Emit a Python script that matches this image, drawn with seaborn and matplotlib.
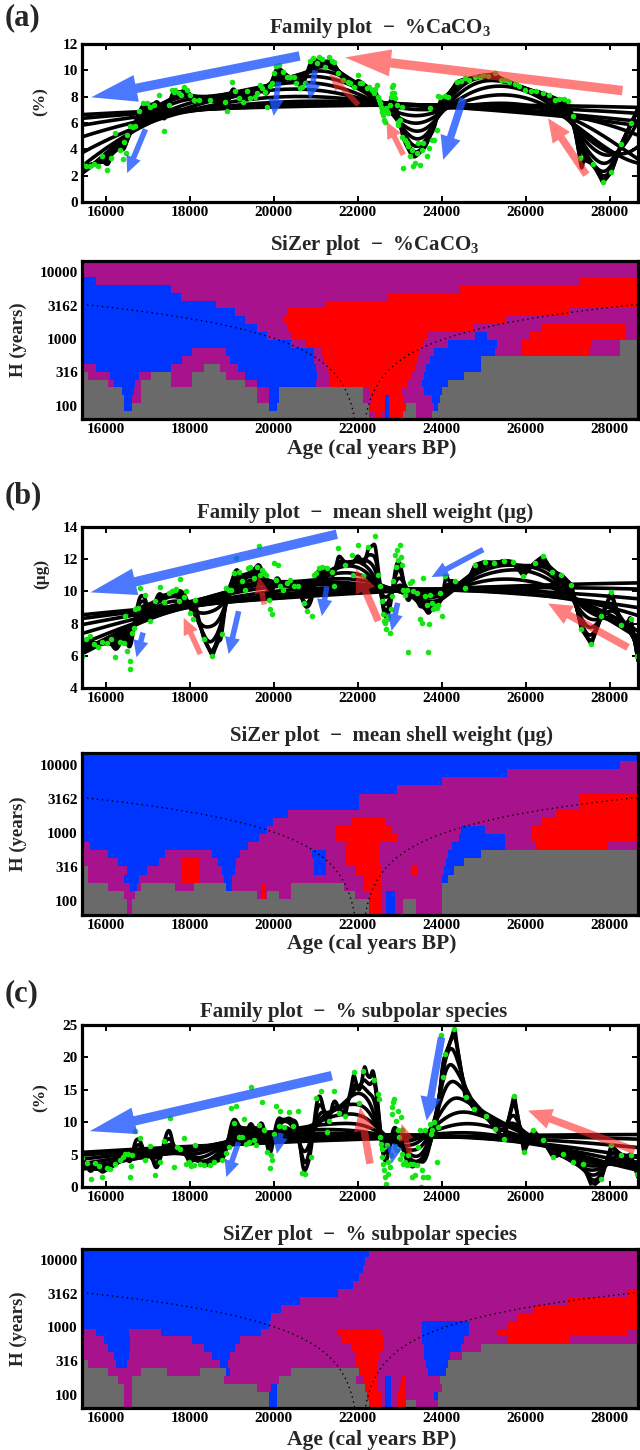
import numpy as np
import matplotlib
matplotlib.use("Agg")
import matplotlib.pyplot as plt
import seaborn as sns
from matplotlib.colors import ListedColormap, BoundaryNorm
from matplotlib.ticker import NullLocator

sns.set_style("ticks")
plt.rcParams["font.family"] = ["Liberation Serif", "DejaVu Serif"]
plt.rcParams["font.weight"] = "bold"
plt.rcParams["axes.labelweight"] = "bold"
plt.rcParams["mathtext.fontset"] = "custom"
plt.rcParams["mathtext.rm"] = "Liberation Serif:bold"
plt.rcParams["mathtext.bf"] = "Liberation Serif:bold"
plt.rcParams["mathtext.it"] = "Liberation Serif:bold"

# ---------------------------------------------------------------- data
age_caco3 = [15430, 15524, 15627, 15722, 15817, 15920, 16039, 16134, 16237, 16340,
             16419, 16451, 16498, 16514, 16593, 16649, 16712, 16807, 16894, 16989,
             17068, 17163, 17266, 17385, 17504, 17583, 17623, 17662, 17742, 17797,
             17876, 17940, 18019, 18098, 18217, 18494, 18850, 18890, 19009, 19088,
             19167, 19270, 19365, 19444, 19563, 19603, 19682, 19722, 19801, 19840,
             19920, 19959, 20015, 20062, 20118, 20221, 20316, 20395, 20474, 20537,
             20632, 20672, 20751, 20854, 20933, 21028, 21068, 21147, 21226, 21329,
             21385, 21440, 21543, 21660, 21763, 21818, 21921, 22000, 22056, 22111,
             22214, 22269, 22333, 22396, 22412, 22452, 22475, 22507, 22531, 22555,
             22570, 22586, 22610, 22634, 22650, 22665, 22689, 22729, 22768, 22792,
             22808, 22824, 22848, 22871, 22887, 22927, 22951, 22966, 23006, 23046,
             23061, 23085, 23125, 23164, 23204, 23244, 23283, 23323, 23362, 23402,
             23442, 23481, 23521, 23560, 23640, 23695, 23719, 23758, 23822, 23877,
             23917, 23956, 24075, 24150, 24352, 24450, 24550, 24650, 24788, 24900,
             24986, 25100, 25263, 25400, 25501, 25600, 25738, 25850, 25976, 26134,
             26250, 26412, 26550, 26705, 26800, 26911, 27000, 27124, 27283, 27600,
             27837, 28035, 28273, 28510]
caco3 = [2.90, 2.70, 2.75, 2.90, 2.75, 3.51, 2.40, 3.33, 5.23, 3.96,
         3.26, 4.52, 3.71, 5.10, 5.78, 5.68, 5.78, 6.94, 7.55, 7.50,
         7.25, 7.35, 8.13, 5.43, 7.37, 8.51, 8.38, 8.51, 8.26, 8.13,
         8.76, 8.51, 8.13, 7.75, 7.75, 7.75, 7.63, 6.94, 9.14, 8.46,
         7.88, 7.63, 8.46, 7.88, 8.00, 8.26, 8.89, 8.64, 8.38, 7.25,
         8.81, 9.02, 9.82, 10.33, 10.40, 9.90, 9.47, 9.47, 9.47, 9.07,
         8.64, 8.76, 9.02, 10.73, 10.91, 10.53, 10.98, 10.83, 10.28, 10.98,
         10.73, 10.66, 9.77, 9.27, 9.14, 9.02, 8.76, 9.65, 9.02, 9.07,
         8.64, 8.76, 8.51, 8.26, 8.56, 8.89, 8.00, 7.75, 7.50, 7.25,
         7.00, 6.87, 6.62, 6.24, 6.11, 7.12, 6.94, 6.74, 7.37, 8.00,
         8.26, 8.76, 8.89, 8.26, 7.88, 7.37, 6.11, 5.86, 6.24, 7.25,
         4.92, 2.58, 4.72, 4.47, 4.22, 3.46, 3.96, 2.70, 2.95, 3.71,
         4.47, 2.83, 3.96, 4.47, 3.46, 4.09, 7.12, 4.72, 4.72, 5.48,
         8.06, 7.95, 8.06, 8.00, 9.14, 9.20, 9.39, 9.30, 9.52, 9.50,
         9.65, 9.60, 9.77, 9.30, 9.27, 9.10, 8.96, 8.80, 8.51, 8.46,
         8.40, 8.26, 8.10, 7.75, 7.80, 7.80, 7.70, 6.54, 3.33, 2.90,
         1.49, 2.25, 4.42, 5.98]

age_shell = [15430, 15524, 15627, 15722, 15817, 15920, 16039, 16134, 16237, 16340,
             16435, 16474, 16514, 16577, 16593, 16633, 16672, 16712, 16767, 16831,
             16950, 17053, 17187, 17290, 17385, 17504, 17583, 17662, 17686, 17742,
             17781, 17860, 17924, 18003, 18082, 18138, 18336, 18534, 18771, 18874,
             18930, 18985, 19048, 19112, 19167, 19246, 19326, 19381, 19444, 19524,
             19603, 19642, 19682, 19722, 19761, 19824, 19880, 19920, 19959, 19999,
             20062, 20094, 20157, 20221, 20316, 20395, 20474, 20569, 20712, 20791,
             20910, 20949, 21013, 21068, 21147, 21266, 21385, 21440, 21543, 21699,
             21858, 21900, 22016, 22135, 22238, 22412, 22491, 22531, 22586, 22610,
             22634, 22650, 22665, 22689, 22729, 22768, 22792, 22808, 22848, 22887,
             22903, 22927, 22966, 23006, 23030, 23046, 23085, 23125, 23164, 23204,
             23244, 23283, 23323, 23402, 23481, 23521, 23560, 23600, 23640, 23663,
             23695, 23719, 23758, 23798, 23838, 23877, 23917, 23956, 23996, 24075,
             24313, 24550, 24788, 25026, 25247, 25485, 25699, 25936, 26214, 26412,
             26625, 26847, 27085, 27322, 27560, 27798, 28035, 28273, 28510, 28650]
shell_weight = [6.01, 7.07, 7.20, 6.73, 6.52, 6.87, 6.79, 7.07, 5.95, 6.87,
                6.79, 8.47, 6.32, 5.70, 5.19, 7.40, 7.75, 8.88, 8.98, 10.21,
                9.80, 8.16, 9.39, 10.27, 9.33, 9.90, 10.00, 10.07, 10.15, 9.39,
                10.76, 9.66, 10.00, 8.63, 8.26, 9.49, 7.07, 6.01, 7.34, 10.21,
                10.11, 10.07, 11.13, 12.05, 11.23, 10.62, 10.11, 11.44, 11.54, 10.82,
                11.54, 12.81, 11.03, 11.34, 11.13, 11.03, 9.49, 8.88, 8.57, 11.75,
                10.72, 11.64, 10.31, 10.11, 10.52, 10.72, 10.31, 10.31, 9.29, 8.77,
                8.47, 11.03, 11.13, 11.44, 11.54, 11.44, 11.23, 10.31, 12.67, 11.64,
                12.26, 11.03, 12.87, 10.93, 12.77, 13.43, 11.03, 10.31, 9.39, 8.57,
                8.16, 8.06, 7.65, 8.26, 8.47, 7.44, 8.88, 9.70, 10.62, 12.26,
                11.54, 12.57, 11.95, 12.87, 12.16, 11.64, 10.11, 9.80, 10.11, 6.21,
                10.52, 10.62, 10.00, 9.90, 8.26, 8.06, 10.82, 9.70, 9.18, 6.21,
                7.95, 9.80, 9.29, 8.88, 9.08, 8.98, 9.18, 9.90, 8.47, 10.93,
                10.62, 10.21, 11.64, 11.85, 11.75, 11.91, 11.85, 10.97, 11.79, 12.20,
                11.23, 11.03, 10.41, 7.69, 6.73, 8.47, 9.94, 7.89, 8.26, 6.01]

age_subpolar = [15430, 15548, 15643, 15738, 15841, 15920, 16023, 16118, 16237, 16340,
                16419, 16474, 16530, 16577, 16609, 16633, 16712, 16831, 16950, 17068,
                17187, 17290, 17401, 17528, 17639, 17702, 17765, 17860, 17924, 17979,
                18035, 18098, 18138, 18256, 18351, 18494, 18573, 18771, 18874, 18930,
                18985, 19048, 19112, 19167, 19246, 19286, 19349, 19405, 19460, 19524,
                19587, 19642, 19722, 19777, 19840, 19904, 19935, 19959, 19999, 20062,
                20118, 20157, 20252, 20355, 20458, 20569, 20672, 20751, 20886, 21013,
                21124, 21266, 21329, 21440, 21567, 21699, 21921, 22032, 22135, 22396,
                22475, 22507, 22531, 22555, 22570, 22586, 22610, 22634, 22650, 22665,
                22689, 22713, 22729, 22768, 22792, 22808, 22824, 22848, 22871, 22887,
                22903, 22927, 22951, 22966, 22982, 23006, 23030, 23046, 23061, 23085,
                23125, 23164, 23204, 23244, 23283, 23323, 23362, 23402, 23442, 23481,
                23505, 23521, 23560, 23600, 23640, 23679, 23719, 23743, 23774, 23822,
                23877, 23917, 23980, 24036, 24075, 24300, 24566, 24772, 25065, 25263,
                25485, 25723, 25960, 26174, 26412, 26650, 26887, 27124, 27362, 27576,
                27798, 28035, 28273, 28510, 28650]
subpolar = [4.46, 3.69, 1.28, 3.69, 3.18, 1.54, 2.97, 2.82, 3.49, 4.10,
            4.62, 5.03, 5.13, 1.54, 3.18, 4.87, 8.62, 7.59, 4.10, 6.26,
            1.79, 3.85, 7.08, 10.67, 3.08, 6.15, 5.90, 7.59, 3.59, 3.85,
            3.18, 3.33, 6.41, 3.49, 3.33, 3.33, 3.85, 4.21, 5.23, 6.15,
            12.21, 9.85, 12.56, 7.79, 7.69, 10.51, 6.67, 6.92, 15.49, 7.18,
            6.41, 9.64, 13.08, 8.72, 5.38, 2.97, 4.87, 4.21, 8.21, 12.56,
            9.49, 11.79, 9.23, 11.54, 9.49, 11.79, 2.15, 1.95, 4.62, 13.74,
            14.87, 8.46, 10.15, 14.77, 11.38, 11.03, 17.69, 12.92, 17.95, 16.51,
            14.36, 13.59, 7.69, 6.67, 5.90, 4.62, 3.59, 2.56, 1.54, 0.51,
            6.41, 3.85, 2.05, 3.08, 4.87, 11.28, 12.31, 13.08, 13.59, 6.15,
            10.26, 5.64, 8.72, 11.79, 7.69, 4.36, 10.77, 8.72, 5.13, 3.59,
            3.85, 3.33, 4.87, 3.59, 1.54, 3.59, 1.79, 3.33, 6.15, 8.72,
            0.00, 2.56, 1.54, 8.72, 1.54, 1.54, 9.74, 8.21, 8.72, 10.00,
            3.85, 9.23, 23.49, 16.92, 20.51, 24.40, 13.85, 12.05, 11.03, 8.97,
            7.44, 14.10, 5.38, 8.72, 7.18, 4.62, 5.13, 3.85, 3.59, 0.00,
            1.28, 6.41, 4.87, 4.87, 1.95]

# smoothing bandwidths (years) of the family of curves
bandwidths = [75, 110, 160, 235, 345, 505, 740, 1085, 1590, 2330, 3420, 5010, 7350, 10780]

# SiZer maps: one string per bandwidth row (largest H first);
# each token = colour code + age where that colour run ends.
# G: too few data, P: no significant slope, B: significant increase, R: significant decrease
sizer_caco3 = [
    "P29000",
    "P29000",
    "B15770 P27258 R29000",
    "B17563 P24398 R29000",
    "B17800 P22700 R29000",
    "B18630 P21250 R29000",
    "B19066 P20326 R27064 P29000",
    "B19308 P20230 R25513 P29000",
    "B19600 P20326 R24737 P26385 R28373 P29000",
    "B19842 P20423 R23671 P24785 B25076 P26094 R28373 P29000",
    "B20423 P20763 R23574 P24155 B25319 P25900 R27549 P28227 G29000",
    "B18048 P18872 B20956 P21150 R23477 P23816 B25270 P25900 R27500 P28227 G29000",
    "B17806 P18969 B20956 P21199 R23429 P23719 B24931 G29000",
    "P15770 B17563 P18339 G18727 P19163 B21005 P21296 R23380 P23622 B24931 G29000",
    "G15576 P16109 B16788 P17079 G17563 P18048 G18872 P19308 B21034 P21325 R23283 P23574 B24543 G29000",
    "G16061 P16206 B16691 P16836 G17563 P18048 G19308 P19599 B21005 P21344 R23186 P23525 B24155 G29000",
    "G16400 B16672 P16836 G19599 P19890 B20132 G22120 P22265 R23041 P23574 B24010 G29000",
    "G16449 B16643 P16836 G19599 P19890 B20132 G22120 P22314 R22653 B22750 R23089 P23768 B23962 G29000",
    "G16449 B16643 G19890 B20084 G22265 R22653 B22750 R23138 G23380 P23816 B23913 G29000",
    "G22265 P22410 R22556 P22653 B22750 R23089 G23380 P23768 G29000",
]
sizer_shell = [
    "B29000",
    "B28227 P29000",
    "B25562 P29000",
    "B24010 P29000",
    "B22944 P29000",
    "B22023 P27258 R29000",
    "B22023 P27258 R29000",
    "B20326 P26724 R29000",
    "B19987 P21829 R22653 P26385 R29000",
    "B19842 P21490 R22798 P24446 B25028 P26143 R29000",
    "B19648 P21490 R22944 P24398 B25513 P26143 R29000",
    "P15625 B19405 P21732 R22507 P24252 B25513 P26240 R27936 P29000",
    "P16061 B17418 P18533 B19211 P20908 B21247 P21732 R22507 P24155 B24931 G29000",
    "P16303 B17273 P17806 R18242 P18678 B19115 P20956 B21247 P21732 R22507 P24107 B24543 G29000",
    "G15576 P16497 B16982 P17806 R18242 P18775 B19066 P20956 B21247 P21926 R22556 P23283 R23400 P24058 B24301 G29000",
    "G15576 P16449 B16788 P17806 R18242 P18823 B19018 P22120 R22556 P24010 B24155 G29000",
    "G16061 P16594 B16740 P16836 G17660 P18097 G18872 B19018 P19696 R19793 P20423 G21684 P22120 R22556 P24010 G29000",
    "G16449 P16691 G19599 P19696 R19793 P19842 G20132 P20423 G21926 P22265 R22556 P22682 B22876 P24010 G29000",
    "G16497 P16643 G22265 R22556 P22682 B22876 P23089 G23380 P24010 G29000",
    "G16497 P16643 G22265 R22556 P22682 B22876 P23089 G23380 P24010 G29000",
]
sizer_subpolar = [
    "B22265 P29000",
    "B22168 P29000",
    "B22120 P29000",
    "B22023 P29000",
    "B21877 P29000",
    "B21538 P28421 R29000",
    "B20617 P26967 R29000",
    "B20181 P26191 R29000",
    "B19939 P25803 R29000",
    "B19890 P23525 B24640 P25562 R29000",
    "P15770 B16546 P17321 B19695 P21538 R22556 P23525 B24640 P25319 R28421 P29000",
    "P15965 B16594 P18048 B19211 P21635 R22605 P23525 B24543 P25562 R27064 P29000",
    "P16061 B16594 P18339 B19066 P21829 R22605 P23574 B24446 P24931 G29000",
    "P16206 B16546 P18533 B18969 P21926 R22507 P23574 B24203 P24495 G29000",
    "G15576 P16255 B16497 P18727 B18920 P21974 R22459 P23622 B24155 G29000",
    "G16061 P16836 G17466 P18242 G18872 B18969 P20423 G22023 R22459 P23671 B24107 G29000",
    "G16303 P16643 G18824 P20132 G21974 P22120 R22459 P22653 B22799 P23041 R23138 P23962 G29000",
    "G16449 P16643 G19599 P19938 B20084 G22168 R22459 P22653 B22799 P22992 R23138 P24010 G29000",
    "G16449 P16643 G19890 B20084 G22217 R22556 P22653 B22799 P22944 R23138 P23816 B23913 G29000",
    "G16449 P16643 G19890 B20084 G22265 R22556 P22653 B22799 P22944 R23138 G23380 P23913 G29000",
]

age_ticks = [16000, 18000, 20000, 22000, 24000, 26000, 28000]
h_ticks = [100, 316, 1000, 3162, 10000]
h_tick_labels = ["100", "316", "1000", "3162", "10000"]

# trend arrows: (tail age, tail value, tip age, tip value, colour, size)
arrows_caco3 = [
    (20617, 11.09, 15659, 7.95, "b", "L"),
    (16950, 5.53, 16514, 2.20, "b", "S"),
    (20118, 9.14, 20000, 6.54, "b", "S"),
    (20989, 10.00, 20854, 7.75, "b", "S"),
    (22018, 7.37, 21329, 9.72, "r", "S"),
    (28300, 8.46, 21699, 10.98, "r", "L"),
    (23085, 3.59, 22689, 6.11, "r", "S"),
    (24511, 7.88, 24036, 3.21, "b", "M"),
    (27441, 2.07, 26530, 6.36, "r", "M"),
]
arrows_shell = [
    (21504, 13.55, 15643, 9.94, "b", "L"),
    (16894, 7.44, 16736, 5.91, "b", "S"),
    (18256, 6.11, 17860, 8.36, "r", "S"),
    (19167, 8.77, 18930, 6.11, "b", "S"),
    (19777, 9.18, 19642, 10.93, "r", "S"),
    (21266, 10.31, 21147, 8.47, "b", "S"),
    (22491, 8.16, 21960, 11.40, "r", "M"),
    (22951, 9.29, 22808, 7.55, "b", "S"),
    (24986, 12.60, 23758, 10.89, "b", "S"),
    (28431, 6.52, 26530, 9.25, "r", "M"),
]
arrows_subpolar = [
    (21385, 17.18, 15627, 8.62, "b", "L"),
    (19167, 6.92, 18874, 1.54, "b", "S"),
    (20173, 8.31, 20078, 5.13, "b", "S"),
    (22293, 3.59, 22056, 12.30, "r", "M"),
    (22887, 6.67, 22808, 3.59, "b", "S"),
    (23244, 5.13, 23046, 9.74, "r", "S"),
    (23996, 23.10, 23640, 10.26, "b", "M"),
    (28590, 5.64, 26055, 11.79, "r", "M"),
]

# ---------------------------------------------------------------- helpers
AGE_LIM = (15440, 28670)
LOG_H_LIM = (1.80, 4.17)
SIZER_COLORS = ["#6a6a6a", "#a8128c", "#0034ff", "#ff0000"]
GREEN = "#14e614"
ARROW_COLORS = {"b": ("#1f55ff", 0.80), "r": ("#ff2a2a", 0.60)}
ARROW_SIZES = {"L": (6.8, 19.5, 33.0), "M": (5.4, 15.0, 17.0), "S": (4.0, 11.0, 12.0)}

W, H = 640, 1450


def fx(px):
    return px / W


def fy(py):
    return 1 - py / H


def add_axes(top, bottom, left=82, right=638):
    return fig.add_axes([fx(left), fy(bottom), (right - left) / W, (bottom - top) / H])


def local_linear(x, y, grid, h):
    x = np.asarray(x, float)
    y = np.asarray(y, float)
    d = x[None, :] - grid[:, None]
    z = -0.5 * (d / h) ** 2
    z -= z.max(axis=1, keepdims=True)
    w = np.exp(z)
    s0 = w.sum(1)
    s1 = (w * d).sum(1)
    s2 = (w * d * d).sum(1)
    t0 = (w * y).sum(1)
    t1 = (w * d * y).sum(1)
    den = s0 * s2 - s1 ** 2
    ok = den > 1e-6 * s0 * s2
    ll = (s2 * t0 - s1 * t1) / np.where(ok, den, 1.0)
    return np.where(ok, ll, t0 / s0)


def sizer_grid(rows, x_edges):
    codes = {"G": 0, "P": 1, "B": 2, "R": 3}
    centers = 0.5 * (x_edges[:-1] + x_edges[1:])
    grid = np.zeros((len(rows), len(centers)), dtype=int)
    for i, row in enumerate(rows):
        toks = row.split()
        cols = np.array([codes[t[0]] for t in toks])
        ends = np.array([float(t[1:]) for t in toks])
        idx = np.clip(np.searchsorted(ends, centers, side="right"), 0, len(ends) - 1)
        grid[i] = cols[idx]
    return grid[::-1]


def style_axes(ax):
    for s in ax.spines.values():
        s.set_linewidth(2.3)
        s.set_color("black")
        s.set_zorder(6)
    ax.tick_params(direction="in", length=4.5, width=1.4, top=True, right=True,
                   labelsize=11, pad=3, colors="black")
    for lab in ax.get_xticklabels() + ax.get_yticklabels():
        lab.set_fontweight("bold")


def draw_family(ax, ages, values, ylim, yticks, arrows):
    grid = np.linspace(AGE_LIM[0], AGE_LIM[1], 900)
    for h in bandwidths:
        ax.plot(grid, local_linear(ages, values, grid, h), color="black",
                lw=2.6, solid_capstyle="round", zorder=2)
    sns.scatterplot(x=ages, y=values, ax=ax, color=GREEN, s=16, linewidth=0,
                    zorder=3, legend=False)
    for x0, y0, x1, y1, c, sz in arrows:
        col, alpha = ARROW_COLORS[c]
        tw, hw, hl = ARROW_SIZES[sz]
        ax.annotate("", xy=(x1, y1), xytext=(x0, y0), zorder=5,
                    arrowprops=dict(arrowstyle=f"simple,head_length={hl},head_width={hw},tail_width={tw}",
                                    mutation_scale=1, color=col, alpha=alpha, lw=0,
                                    shrinkA=0, shrinkB=0))
    ax.set_xlim(AGE_LIM)
    ax.set_ylim(ylim)
    ax.set_xticks(age_ticks)
    ax.set_yticks(yticks)
    ax.set_xlabel("")
    ax.set_ylabel("")
    style_axes(ax)


def draw_sizer(ax, rows):
    x_edges = np.arange(AGE_LIM[0], AGE_LIM[1] + 10, 10.0)
    y_edges = 10 ** np.linspace(LOG_H_LIM[0], LOG_H_LIM[1], len(rows) + 1)
    grid = sizer_grid(rows, x_edges)
    ax.pcolormesh(x_edges, y_edges, grid, cmap=ListedColormap(SIZER_COLORS),
                  norm=BoundaryNorm([-0.5, 0.5, 1.5, 2.5, 3.5], 4), shading="flat", zorder=1)
    # effective-window guide lines (H = distance from the centre / 2)
    centre = 0.5 * (AGE_LIM[0] + AGE_LIM[1])
    xl = np.linspace(AGE_LIM[0], centre - 1, 400)
    xr = np.linspace(centre + 1, AGE_LIM[1], 400)
    for xs in (xl, xr):
        ax.plot(xs, np.abs(xs - centre) / 2, color="black", lw=1.0,
                ls=(0, (1, 2.6)), zorder=3)
    ax.set_yscale("log")
    ax.set_xlim(AGE_LIM)
    ax.set_ylim(10 ** LOG_H_LIM[0], 10 ** LOG_H_LIM[1])
    ax.set_xticks(age_ticks)
    ax.set_yticks(h_ticks)
    ax.set_yticklabels(h_tick_labels)
    ax.yaxis.set_minor_locator(NullLocator())
    style_axes(ax)


# ---------------------------------------------------------------- figure
fig = plt.figure(figsize=(6.4, 14.5), dpi=100)

panels = [
    dict(letter="(a)", letter_y=18,
         fam=("Family plot  \u2212  %CaCO$_3$", 380, 28, 44, 202),
         ages=age_caco3, vals=caco3, ylim=(0, 12), yticks=list(range(0, 13, 2)),
         ylab=("(%)", 102), arrows=arrows_caco3,
         siz=("SiZer plot  \u2212  %CaCO$_3$", 375, 245, 261, 419),
         rows=sizer_caco3, xlab_y=449),
    dict(letter="(b)", letter_y=496,
         fam=("Family plot  \u2212  mean shell weight (\u03bcg)", 365, 513, 527, 688),
         ages=age_shell, vals=shell_weight, ylim=(4, 14), yticks=list(range(4, 15, 2)),
         ylab=("(\u03bcg)", 574), arrows=arrows_shell,
         siz=("SiZer plot  \u2212  mean shell weight (\u03bcg)", 391, 736, 753, 915),
         rows=sizer_shell, xlab_y=944),
    dict(letter="(c)", letter_y=994,
         fam=("Family plot  \u2212  % subpolar species", 354, 1012, 1025, 1187),
         ages=age_subpolar, vals=subpolar, ylim=(0, 25), yticks=list(range(0, 26, 5)),
         ylab=("(%)", 1098), arrows=arrows_subpolar,
         siz=("SiZer plot  \u2212  % subpolar species", 370, 1235, 1249, 1408),
         rows=sizer_subpolar, xlab_y=1440),
]

for p in panels:
    fig.text(fx(5), fy(p["letter_y"]), p["letter"], fontsize=22, fontweight="bold",
             ha="left", va="center")

    title, tx, ty, top, bottom = p["fam"]
    ax_f = add_axes(top, bottom)
    draw_family(ax_f, p["ages"], p["vals"], p["ylim"], p["yticks"], p["arrows"])
    fig.text(fx(tx), fy(ty), title, fontsize=15, fontweight="bold", ha="center", va="center")
    fig.text(fx(41), fy(p["ylab"][1]), p["ylab"][0], fontsize=12.5, fontweight="bold",
             rotation=90, ha="center", va="center")

    title, tx, ty, top, bottom = p["siz"]
    ax_s = add_axes(top, bottom)
    draw_sizer(ax_s, p["rows"])
    fig.text(fx(tx), fy(ty), title, fontsize=15, fontweight="bold", ha="center", va="center")
    fig.text(fx(18), fy(0.5 * (top + bottom)), "H (years)", fontsize=13.5, fontweight="bold",
             rotation=90, ha="center", va="center")
    fig.text(fx(372), fy(p["xlab_y"]), "Age (cal years BP)", fontsize=15.5, fontweight="bold",
             ha="center", va="center")

fig.savefig("out.png", dpi=100)
